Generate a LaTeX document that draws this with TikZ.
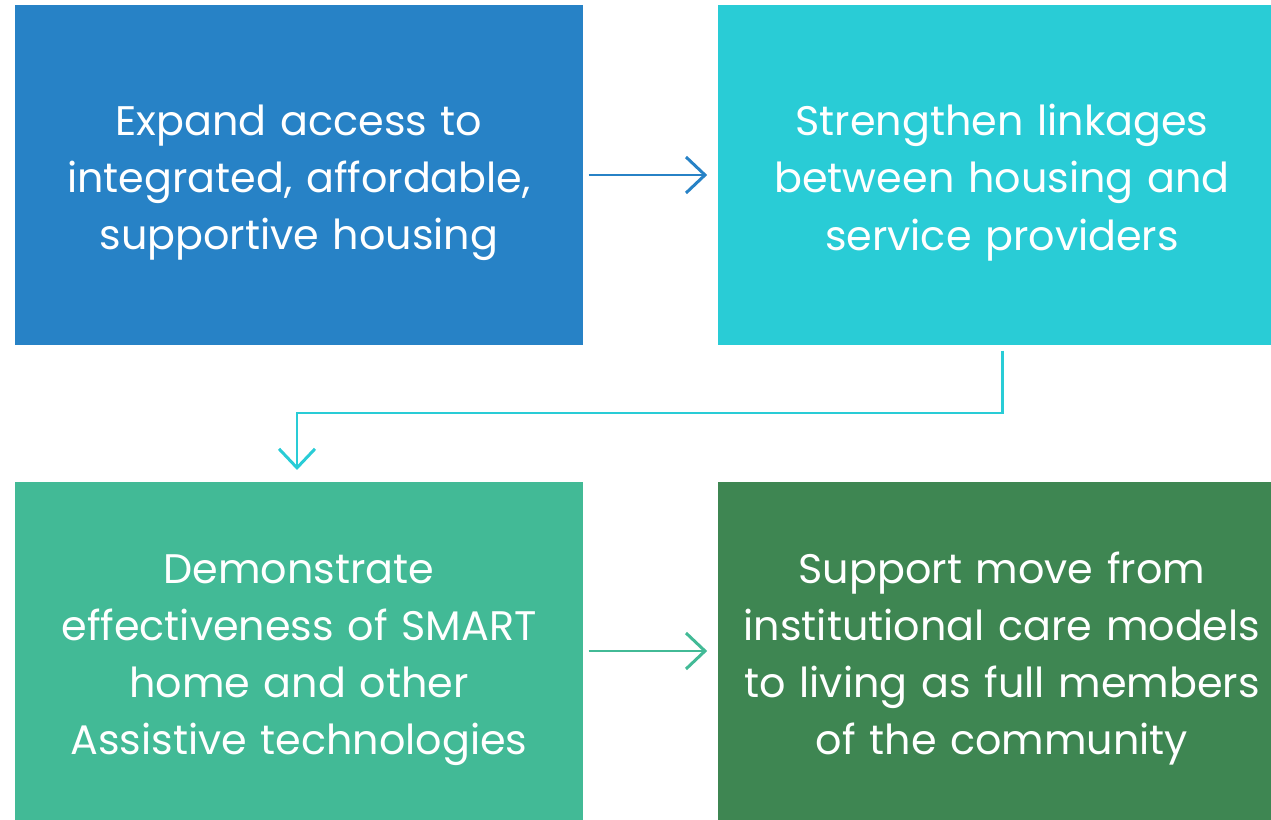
\documentclass[tikz,border=0pt]{standalone}
\usepackage{fontspec}
\setmainfont{Poppins}
\usetikzlibrary{arrows.meta,positioning}
\definecolor{goalblue}{RGB}{39,130,198}
\definecolor{goalcyan}{RGB}{41,204,214}
\definecolor{goalteal}{RGB}{66,186,150}
\definecolor{goalgreen}{RGB}{62,134,82}
\tikzset{
    goal/.style={
        rectangle,
        inner sep=0pt,
        minimum width=11.36cm,
        text width=10.9cm,
        align=center,
        text=white,
        font=\fontsize{23.5}{32.5}\selectfont,
        execute at begin node={\rule{0pt}{26.5pt}}
    },
    flow/.style={
        line width=1.7pt,
        -{Straight Barb[length=3.8mm,width=7.2mm,line width=1.7pt]}
    }
}

\begin{document}
\begin{tikzpicture}[x=0.02cm,y=-0.02cm]
    % page area
    \useasboundingbox (0,0) rectangle (1271,820);

    % goals
    \node[goal, fill=goalblue, minimum height=6.8cm]
        (access) at (299,175) {Expand access to\\integrated, affordable,\\supportive housing};
    \node[goal, fill=goalcyan, minimum height=6.8cm]
        (links) at (1002,175) {Strengthen linkages\\between housing and\\service providers};
    \node[goal, fill=goalteal, minimum height=6.76cm]
        (smart) at (299,651) {Demonstrate\\effectiveness of SMART\\home and other\\Assistive technologies};
    \node[goal, fill=goalgreen, minimum height=6.76cm]
        (community) at (1002,651) {Support move from\\institutional care models\\to living as full members\\of the community};

    % connectors
    \coordinate (bend) at (1002,413);
    \coordinate (drop) at (297,470);
    \draw[flow, draw=goalcyan] ([yshift=-3pt]links.south)
        -- (bend) -- (drop |- bend) -- (drop);
    \draw[flow, draw=goalblue] ([xshift=3pt]access.east) -- ([xshift=-6pt]links.west);
    \draw[flow, draw=goalteal] ([xshift=3pt]smart.east) -- ([xshift=-6pt]community.west);
\end{tikzpicture}
\end{document}
